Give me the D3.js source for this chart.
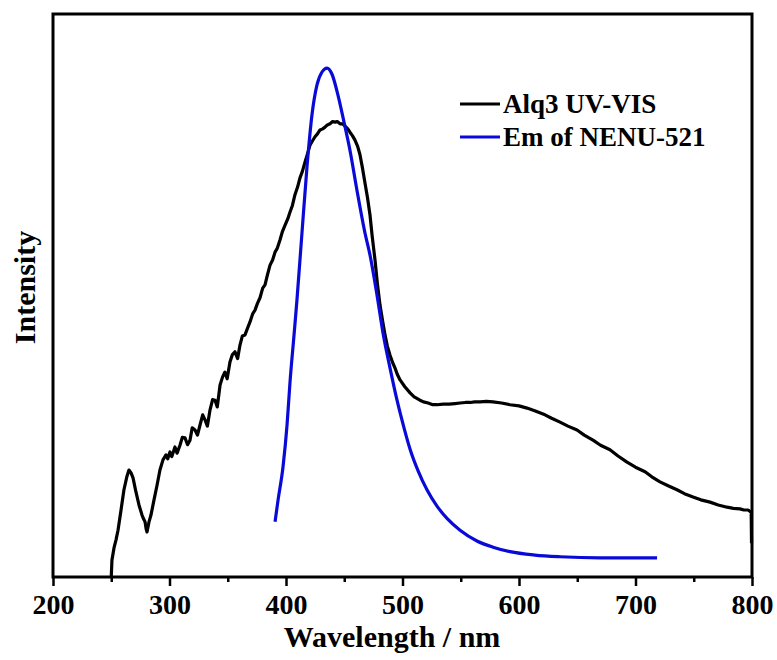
<!DOCTYPE html>
<html>
<head>
<meta charset="utf-8">
<script src="https://cdn.jsdelivr.net/npm/d3@7"></script>
<style>
  html, body { margin: 0; padding: 0; background: #fff; }
  svg { display: block; }
  text { font-family: "Liberation Serif", "Times New Roman", serif; font-weight: bold; fill: #000; }
</style>
</head>
<body>
<svg id="chart" width="777" height="660"></svg>
<script>
// ---- data ----
const seriesNames = ["Alq3 UV-VIS", "Em of NENU-521"];
const seriesColors = ["#000000", "#0a0ad8"];
const xTicksMajor = [200, 300, 400, 500, 600, 700, 800];
const xTicksMinor = [250, 350, 450, 550, 650, 750];

// Alq3 UV-VIS (wavelength nm, relative intensity)
const alq3Wavelength = [250,250.6,252.4,254.1,255.8,258.4,260.9,263.5,265.2,267,268.7,271.2,273.8,276.4,278,279,280,280.7,282.4,284.1,286.7,289.3,291.8,294.4,297,298.5,300.4,302,304.7,306.5,309,311,313.3,315.5,317.6,319.5,321.9,324,326.2,328.5,330.5,332.5,334.8,337,339.1,341,343.4,345.5,347.6,349.5,351.9,354,356.2,358.5,360.5,362.5,364.8,367,369.1,371.5,373.4,375.5,377.7,380,382,384,386.3,388.5,390.6,392.5,394.9,397,399.2,401.5,403.4,405.5,407.7,410,412,414,416.3,418.5,420.6,422.5,424.9,427,429.2,431.5,433.5,435.5,437.8,440,442.1,444,446.4,448.5,450.7,453,454.9,457,459.2,461.5,463.5,465.5,467.8,470,472.1,474,476.4,478.5,480.7,483,485,487,489.3,491.5,493.6,495.5,497.9,502,506.5,510,515,518,522,526,529.6,535,540,545,549.4,554,558,562,566.5,572,577.7,585,592.3,600,606.9,614,622.3,628,635.2,642,649.8,656,663.5,670,678.1,685,692.7,700,708.2,714,721,728,735.6,742,749.4,756,764,771,778.6,784,789.7,793,796.6,799.3,799.6];
const alq3Intensity = [0,3.0,5.2,6.6,8.3,11.9,15.5,17.9,19.0,18.5,17.6,15.1,12.8,11.0,10.2,9.8,8.5,8.0,9.8,11.0,13.7,16.3,19.0,20.8,21.7,21.0,22.2,21.4,23.1,22.0,23.4,24.8,24.7,23.5,24.3,26.5,26.1,25.2,27.0,28.8,27.9,26.8,29.7,31.5,31.4,30.2,34.1,35.5,36.4,35.2,38.2,39.5,40.0,38.8,41.2,42.8,43.0,44.2,45.3,46.8,47.4,48.6,49.6,51.3,51.9,53.6,55.4,56.3,57.7,58.4,59.9,61.4,62.5,63.6,64.8,66.0,67.9,69.3,70.9,72.0,73.7,75.2,76.7,77.4,78.2,78.7,79.4,79.6,79.9,80.3,80.5,80.9,80.8,80.9,80.5,80.5,80.1,79.6,79.0,78.4,77.6,76.5,75.0,72.8,70.0,67.3,64.3,60.5,56.3,52.0,48.3,45.4,43.0,41.0,39.4,38.1,37.1,36.0,35.0,33.8,32.7,32.0,31.4,31.1,30.9,30.6,30.6,30.7,30.7,30.8,30.9,31.0,31.0,31.1,31.1,31.2,31.1,30.9,30.6,30.4,30.0,29.5,28.8,28.2,27.5,26.8,26.1,25.2,24.3,23.4,22.6,21.5,20.4,19.5,18.7,17.8,16.9,16.2,15.5,14.8,14.2,13.7,13.3,12.8,12.4,12.2,12.1,11.9,11.9,11.5,6.0];

// Em of NENU-521
const emWavelength = [390.6,393.2,397.4,400.9,403.4,406.9,409.4,413.7,418.0,422.3,426.6,430.9,435.2,439.5,444.6,449.8,454.9,460.9,467.8,472.1,478.1,483.3,489.3,495.3,501.3,506.5,513.3,521.0,529.6,538.2,549.4,563.9,577.7,592.3,613.7,635.2,669.5,718.5];
const emIntensity = [9.8,13.7,19.5,27.0,34.5,43.0,49.2,61.1,72.8,82.1,87.4,89.7,90.4,89.3,85.6,80.8,75.8,68.7,61.1,57.2,50.1,43.3,37.1,31.4,26.5,22.7,18.9,15.5,12.6,10.4,8.3,6.4,5.3,4.5,3.9,3.6,3.4,3.4];

// ---- layout ----
const L = 53, R = 752, T = 14, B = 577;
const svg = d3.select("#chart");
const x = d3.scaleLinear().domain([200, 800]).range([L, R]);
const y = d3.scaleLinear().domain([0, 100]).range([B, T]);

const alq3 = alq3Wavelength.map((w, i) => [w, alq3Intensity[i]]);
const em = emWavelength.map((w, i) => [w, emIntensity[i]]);

const lineJagged = d3.line().x(d => x(d[0])).y(d => y(d[1])).curve(d3.curveLinear);
const lineSmooth = d3.line().x(d => x(d[0])).y(d => y(d[1])).curve(d3.curveMonotoneX);

svg.append("path").datum(alq3).attr("d", lineJagged)
  .attr("fill", "none").attr("stroke", seriesColors[0]).attr("stroke-width", 3.2).attr("stroke-linejoin", "round");
svg.append("path").datum(em).attr("d", lineSmooth)
  .attr("fill", "none").attr("stroke", seriesColors[1]).attr("stroke-width", 3.2).attr("stroke-linejoin", "round");

// x axis ticks (major + minor) with labels
const axis = d3.axisBottom(x).tickValues(xTicksMajor).tickSize(9).tickSizeOuter(0).tickPadding(8);
const g = svg.append("g").attr("transform", `translate(0,${B})`).call(axis);
g.select(".domain").remove();
g.selectAll(".tick line").attr("stroke", "#000").attr("stroke-width", 2.5);
g.selectAll(".tick text").style("font-size", "28px").style("font-family", "'Liberation Serif', serif").style("font-weight", "bold").attr("fill", "#000");
const gm = svg.append("g").attr("transform", `translate(0,${B})`)
  .call(d3.axisBottom(x).tickValues(xTicksMinor).tickSize(5).tickFormat(""));
gm.select(".domain").remove();
gm.selectAll(".tick line").attr("stroke", "#000").attr("stroke-width", 2.5);

// frame
svg.append("rect").attr("x", L).attr("y", T).attr("width", R - L).attr("height", B - T)
  .attr("fill", "none").attr("stroke", "#000").attr("stroke-width", 3);

// axis titles
svg.append("text").attr("x", 392).attr("y", 647).attr("text-anchor", "middle")
  .style("font-size", "30px").text("Wavelength / nm");
svg.append("text").attr("transform", `translate(35,${(T + B) / 2 - 8}) rotate(-90)`).attr("text-anchor", "middle")
  .style("font-size", "30px").text("Intensity");

// legend
const legY = [104, 137];
seriesNames.forEach((name, i) => {
  svg.append("line").attr("x1", 460).attr("x2", 500).attr("y1", legY[i]).attr("y2", legY[i])
    .attr("stroke", seriesColors[i]).attr("stroke-width", 3.2);
  svg.append("text").attr("x", 503).attr("y", legY[i] + 9).style("font-size", "27px").text(name);
});
</script>
</body>
</html>
